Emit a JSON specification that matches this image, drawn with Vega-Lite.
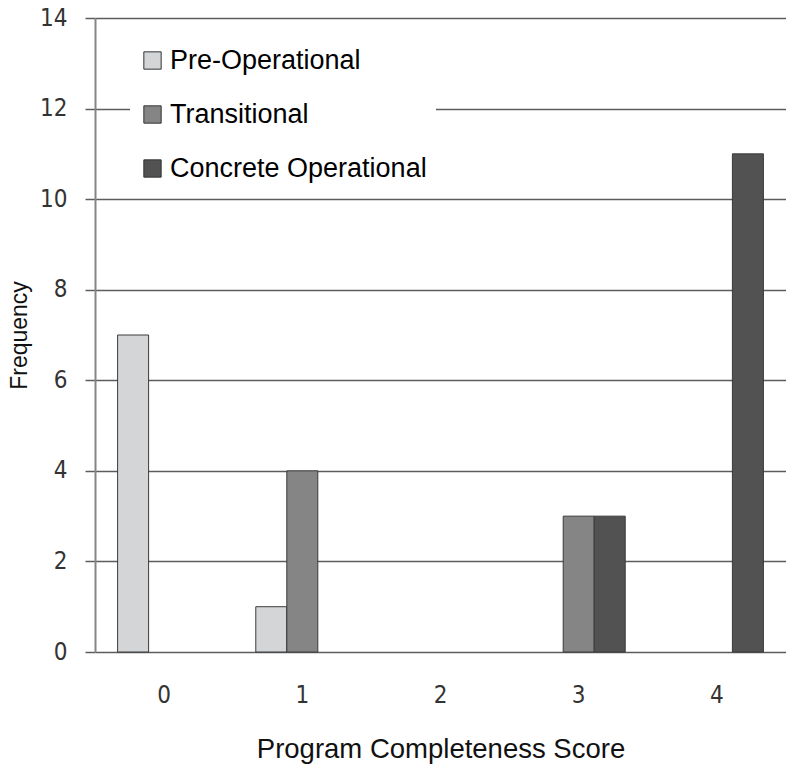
{
  "$schema": "https://vega.github.io/schema/vega-lite/v6.json",
  "width": 691,
  "height": 634,
  "autosize": {"type": "none"},
  "padding": {"left": 95, "top": 18, "right": 0, "bottom": 112},
  "background": "white",
  "data": {
    "values": [
      {"score": "0", "stage": "Pre-Operational", "frequency": 7},
      {"score": "1", "stage": "Pre-Operational", "frequency": 1},
      {"score": "1", "stage": "Transitional", "frequency": 4},
      {"score": "3", "stage": "Transitional", "frequency": 3},
      {"score": "3", "stage": "Concrete Operational", "frequency": 3},
      {"score": "4", "stage": "Concrete Operational", "frequency": 11}
    ]
  },
  "mark": {"type": "bar", "stroke": "#3a3a3a", "strokeWidth": 1, "opacity": 1},
  "encoding": {
    "x": {
      "field": "score",
      "type": "ordinal",
      "scale": {"domain": ["0", "1", "2", "3", "4"], "paddingInner": 0.327, "paddingOuter": 0.1635},
      "axis": {
        "title": "Program Completeness Score",
        "labelAngle": 0,
        "ticks": false,
        "domain": false,
        "labelPadding": 31,
        "labelFont": "Liberation Sans Narrow, DejaVu Sans Condensed, sans-serif",
        "labelFontSize": 24,
        "labelColor": "#333333",
        "titleFont": "Liberation Sans",
        "titleFontSize": 27.5,
        "titleFontWeight": "normal",
        "titleColor": "#111111",
        "titlePadding": 28
      }
    },
    "xOffset": {
      "field": "stage",
      "type": "nominal",
      "scale": {"domain": ["Pre-Operational", "Transitional", "Concrete Operational"]}
    },
    "y": {
      "field": "frequency",
      "type": "quantitative",
      "scale": {"domain": [0, 14], "nice": false},
      "axis": {
        "values": [0, 2, 4, 6, 8, 10, 12, 14],
        "title": "Frequency",
        "grid": true,
        "gridColor": "#5c5c5c",
        "gridWidth": 1.5,
        "domainColor": "#858585",
        "domainWidth": 2,
        "tickColor": "#5c5c5c",
        "tickSize": 10,
        "tickWidth": 1.5,
        "labelPadding": 18,
        "labelFont": "Liberation Sans Narrow, DejaVu Sans Condensed, sans-serif",
        "labelFontSize": 24,
        "labelColor": "#333333",
        "titleFont": "Liberation Sans",
        "titleFontSize": 23,
        "titleFontWeight": "normal",
        "titleColor": "#111111",
        "titlePadding": 8
      }
    },
    "color": {
      "field": "stage",
      "type": "nominal",
      "scale": {
        "domain": ["Pre-Operational", "Transitional", "Concrete Operational"],
        "range": ["#d4d5d7", "#858585", "#525252"]
      },
      "legend": {
        "title": null,
        "orient": "none",
        "legendX": 35,
        "legendY": 20,
        "fillColor": "white",
        "padding": 9,
        "symbolType": "square",
        "symbolSize": 300,
        "symbolStrokeColor": "#333333",
        "symbolStrokeWidth": 1,
        "symbolOpacity": 1,
        "labelFont": "Liberation Sans",
        "labelFontSize": 27,
        "labelColor": "#000000",
        "labelOffset": 4,
        "labelLimit": 400,
        "rowPadding": 26
      }
    }
  },
  "config": {"view": {"stroke": null}}
}
